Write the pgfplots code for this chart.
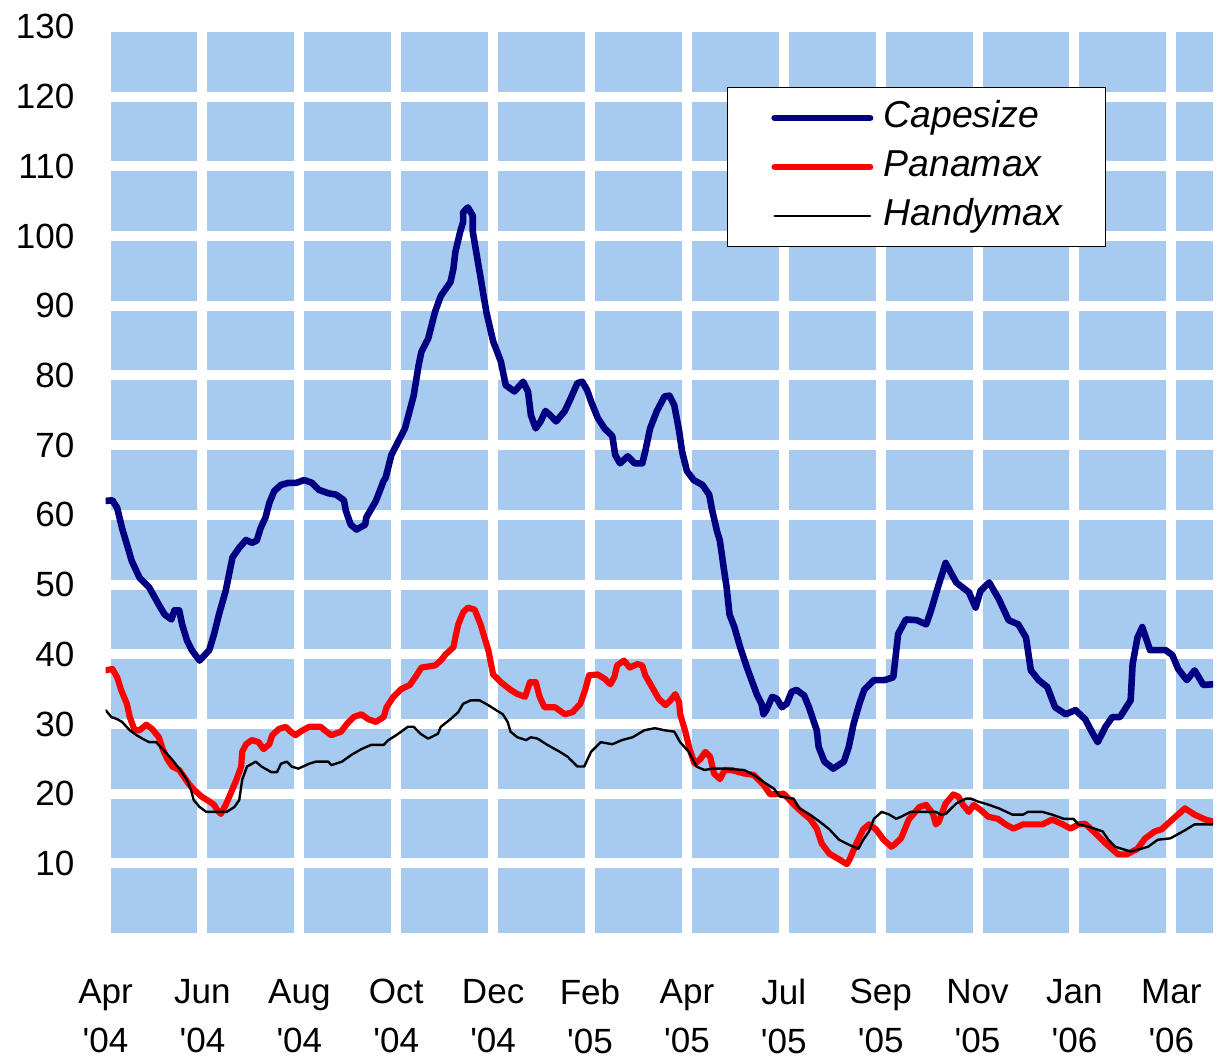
\documentclass[border=0pt]{standalone}
\usepackage{fontspec}
\setmainfont{Liberation Sans}
\usepackage{pgfplots}
\pgfplotsset{compat=1.18}
\definecolor{bgblue}{RGB}{166,202,240}
\definecolor{cape}{RGB}{0,0,128}
\begin{document}
\begin{tikzpicture}
\begin{axis}[
 scale only axis, width=556pt, height=455pt,
 xmin=0, xmax=11.43, ymin=0, ymax=130,
 xtick={0,1,2,3,4,5,6,7,8,9,10,11},
 xticklabels={{Apr\\\textquotesingle04},{Jun\\\textquotesingle04},{Aug\\\textquotesingle04},{Oct\\\textquotesingle04},{Dec\\\textquotesingle04},{Feb\\\textquotesingle05},{Apr\\\textquotesingle05},{Jul\\\textquotesingle05},{Sep\\\textquotesingle05},{Nov\\\textquotesingle05},{Jan\\\textquotesingle06},{Mar\\\textquotesingle06}},
 ytick={10,20,30,40,50,60,70,80,90,100,110,120,130},
 grid=major, major grid style={white, line width=5pt},
 axis background/.style={fill=bgblue},
 axis line style={draw=none},
 major tick length=0pt,
 /pgf/number format/assume math mode=true,
 ticklabel style={font=\fontsize{17.6}{24.5}\selectfont},
 yticklabel style={inner sep=0pt, xshift=-15.5pt},
 xticklabel style={inner sep=0pt, yshift=-23pt, align=center},
 legend style={at={(0.561,0.934)}, anchor=north west, draw=black, line width=0.6pt, fill=white,
   font=\itshape\fontsize{18.8}{22}\selectfont, inner xsep=16.5pt, inner ysep=3pt, row sep=0pt,
   nodes={inner xsep=5pt, inner ysep=3.5pt, text height=13.7pt, text depth=4pt}},
 legend image code/.code={\path (0pt,0pt); \draw[#1] (5.5pt,0pt) -- (53.5pt,0pt);},
 legend cell align=left,
 every axis plot/.append style={line join=round, line cap=round},
]
\addplot[cape, line width=3.3pt] table {
x y
0 62.0
0.07 62.1
0.12 61.0
0.17 58.1
0.23 55.3
0.27 53.4
0.35 51.0
0.45 49.6
0.55 47.1
0.61 45.7
0.68 45.0
0.71 46.3
0.76 46.3
0.79 44.3
0.84 42.0
0.89 40.6
0.97 39.1
1.07 40.6
1.12 42.9
1.17 45.7
1.24 49.1
1.31 53.9
1.38 55.3
1.45 56.4
1.51 56.0
1.56 56.3
1.60 58.1
1.65 59.6
1.69 61.7
1.74 63.4
1.81 64.3
1.89 64.6
1.97 64.6
2.05 65.0
2.13 64.6
2.20 63.6
2.30 63.1
2.38 62.9
2.46 62.1
2.48 60.6
2.53 58.6
2.59 57.9
2.68 58.6
2.69 59.6
2.79 62.0
2.87 64.9
2.89 65.3
2.95 68.6
3.09 72.4
3.18 77.1
3.23 81.4
3.26 83.4
3.33 85.3
3.40 89.1
3.46 91.4
3.56 93.4
3.59 95.3
3.61 97.7
3.66 100.6
3.69 102.0
3.69 103.4
3.74 104.1
3.79 102.9
3.79 100.6
3.86 94.9
3.93 89.1
4.00 84.9
4.08 82.0
4.13 78.6
4.22 77.7
4.31 79.1
4.36 77.7
4.39 74.3
4.44 72.4
4.49 73.4
4.54 74.9
4.59 74.3
4.65 73.4
4.74 74.9
4.80 76.7
4.87 78.9
4.92 79.1
4.97 77.9
5.01 76.3
5.08 73.9
5.15 72.4
5.23 71.3
5.26 68.6
5.31 67.4
5.39 68.4
5.46 67.4
5.54 67.4
5.57 69.1
5.62 72.4
5.69 74.9
5.77 77.0
5.82 77.1
5.87 75.7
5.92 72.0
5.95 69.1
6.00 66.3
6.07 65.0
6.16 64.3
6.23 62.9
6.26 60.7
6.31 57.7
6.34 56.3
6.38 52.4
6.41 49.6
6.44 45.7
6.49 43.9
6.55 41.0
6.62 38.1
6.72 34.3
6.77 32.9
6.79 31.4
6.82 32.0
6.88 33.9
6.93 33.6
6.98 32.4
7.03 32.9
7.08 34.6
7.13 34.9
7.21 34.1
7.26 32.4
7.34 29.1
7.36 26.7
7.42 24.6
7.51 23.6
7.62 24.6
7.67 26.7
7.72 30.0
7.78 32.9
7.83 34.9
7.93 36.3
8.04 36.3
8.13 36.7
8.18 42.9
8.26 45.0
8.37 44.9
8.47 44.3
8.52 46.3
8.59 49.6
8.67 53.1
8.78 50.3
8.91 48.9
8.98 46.7
9.03 49.1
9.12 50.3
9.22 47.9
9.32 44.9
9.42 44.3
9.50 42.4
9.55 37.7
9.63 36.3
9.72 35.3
9.80 32.4
9.91 31.4
10.01 32.0
10.11 30.7
10.19 28.6
10.24 27.4
10.32 29.6
10.39 31.0
10.47 31.0
10.58 33.4
10.60 38.6
10.65 42.4
10.70 43.9
10.78 40.6
10.94 40.6
11.01 39.9
11.07 37.9
11.16 36.3
11.24 37.7
11.33 35.6
11.43 35.7
};
\addlegendentry{Capesize}
\addplot[red, line width=3.1pt] table {
x y
0 37.7
0.07 37.9
0.12 36.7
0.16 34.9
0.22 32.9
0.25 31.0
0.30 29.1
0.35 29.1
0.42 29.9
0.48 29.3
0.55 28.1
0.59 26.4
0.64 24.9
0.69 23.9
0.76 23.4
0.81 22.4
0.86 21.4
0.91 20.6
0.99 19.6
1.07 18.9
1.12 18.4
1.15 17.7
1.19 17.1
1.24 18.4
1.29 20.0
1.35 22.0
1.40 23.9
1.41 26.0
1.45 27.1
1.51 27.7
1.58 27.4
1.63 26.4
1.69 27.1
1.72 28.4
1.79 29.3
1.86 29.6
1.91 28.9
1.96 28.4
2.01 28.9
2.10 29.6
2.22 29.6
2.28 28.9
2.33 28.4
2.43 28.9
2.49 30.0
2.56 31.0
2.64 31.4
2.71 30.7
2.79 30.3
2.87 31.0
2.90 32.4
2.97 33.9
3.05 35.0
3.14 35.6
3.21 37.0
3.26 38.1
3.40 38.4
3.46 39.1
3.51 40.0
3.59 41.0
3.61 42.4
3.64 44.3
3.69 46.0
3.74 46.7
3.81 46.4
3.87 44.3
3.95 40.6
4.00 37.1
4.08 36.0
4.18 34.9
4.25 34.3
4.33 33.9
4.38 36.0
4.44 36.0
4.48 33.9
4.53 32.4
4.64 32.4
4.74 31.4
4.82 31.7
4.90 32.9
4.95 34.9
4.99 37.0
5.08 37.1
5.16 36.4
5.21 35.7
5.25 36.7
5.28 38.4
5.35 39.1
5.41 38.1
5.49 38.6
5.54 38.4
5.57 37.0
5.64 35.3
5.71 33.6
5.78 32.7
5.83 33.4
5.88 34.3
5.92 33.1
5.93 31.4
5.98 29.1
6.03 26.3
6.08 24.3
6.14 25.0
6.19 26.0
6.24 25.3
6.28 22.9
6.34 22.1
6.39 23.4
6.46 23.4
6.59 22.9
6.69 22.7
6.79 21.3
6.86 19.9
7.00 20.0
7.06 19.1
7.16 17.7
7.27 16.4
7.34 15.0
7.39 12.9
7.47 11.4
7.57 10.6
7.65 9.9
7.68 10.6
7.75 12.9
7.82 14.9
7.88 15.6
7.95 14.9
8.03 13.4
8.11 12.4
8.14 12.7
8.21 13.6
8.29 16.3
8.40 18.1
8.47 18.4
8.54 17.1
8.57 15.6
8.60 16.0
8.67 18.6
8.75 19.9
8.80 19.6
8.85 18.4
8.91 17.4
8.96 18.4
9.03 17.7
9.11 16.7
9.21 16.4
9.29 15.6
9.37 15.0
9.47 15.6
9.67 15.6
9.77 16.3
9.88 15.6
9.96 15.0
10.04 15.6
10.11 15.7
10.22 14.3
10.32 12.9
10.45 11.3
10.54 11.3
10.65 12.1
10.73 13.6
10.83 14.6
10.90 14.9
11.01 16.3
11.14 17.9
11.24 17.0
11.35 16.3
11.43 16.0
};
\addlegendentry{Panamax}
\addplot[black, line width=1.2pt] table {
x y
0 32.0
0.06 31.0
0.12 30.7
0.17 30.3
0.25 29.1
0.32 28.4
0.38 27.9
0.45 27.4
0.52 27.4
0.59 26.4
0.68 25.0
0.76 23.6
0.84 22.0
0.88 20.6
0.91 19.1
0.97 18.1
1.04 17.4
1.25 17.4
1.33 18.1
1.38 19.1
1.41 22.0
1.46 23.9
1.55 24.6
1.61 23.9
1.71 23.1
1.77 23.1
1.81 24.3
1.87 24.6
1.92 23.9
1.99 23.6
2.10 24.3
2.17 24.6
2.30 24.6
2.33 24.1
2.44 24.6
2.54 25.6
2.64 26.4
2.74 27.0
2.87 27.0
2.92 27.7
3.00 28.4
3.12 29.6
3.18 29.6
3.25 28.6
3.33 27.9
3.43 28.6
3.46 29.6
3.56 30.7
3.64 31.7
3.69 32.9
3.77 33.4
3.86 33.4
3.95 32.7
4.03 32.0
4.10 31.4
4.15 30.3
4.18 28.9
4.25 28.1
4.34 27.7
4.39 28.1
4.46 27.9
4.56 27.0
4.69 26.0
4.77 25.3
4.87 23.9
4.94 23.9
5.01 26.0
5.11 27.4
5.23 27.1
5.33 27.7
5.44 28.1
5.56 29.1
5.67 29.4
5.77 29.1
5.87 28.9
5.93 27.4
6.02 26.0
6.10 23.9
6.18 23.4
6.26 23.6
6.38 23.6
6.59 23.4
6.69 22.7
6.79 21.7
6.90 20.7
6.96 19.6
7.10 19.3
7.16 17.9
7.27 17.0
7.37 16.0
7.47 14.9
7.57 13.4
7.67 12.7
7.77 12.1
7.82 13.4
7.88 14.6
7.93 16.4
8.01 17.4
8.09 17.0
8.16 16.4
8.21 16.7
8.31 17.4
8.57 17.4
8.62 17.0
8.67 17.1
8.78 18.6
8.88 19.3
8.93 19.3
9.00 18.9
9.12 18.4
9.22 17.9
9.36 17.0
9.47 17.0
9.52 17.4
9.67 17.4
9.77 17.0
9.89 16.4
9.99 16.4
10.04 15.6
10.14 15.3
10.29 14.6
10.35 13.4
10.42 12.4
10.58 11.7
10.66 12.0
10.76 12.4
10.86 13.4
10.99 13.6
11.12 14.6
11.24 15.6
11.43 15.6
};
\addlegendentry{Handymax}
\end{axis}
\path (-53pt,-64pt) rectangle (556pt,468.5pt);
\end{tikzpicture}
\end{document}
